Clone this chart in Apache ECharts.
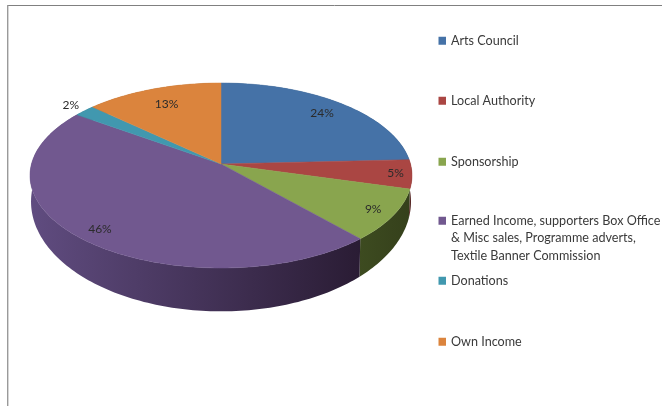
<!DOCTYPE html>
<html><head><meta charset="utf-8">
<style>html,body{margin:0;padding:0;background:#fff}#c{width:662px;height:406px}</style>
<script src="https://cdn.jsdelivr.net/npm/echarts@6/dist/echarts.min.js"></script>
</head><body><div id="c"></div>
<script>
const categories = ['Arts Council','Local Authority','Sponsorship','Earned Income, supporters Box Office\n& Misc sales, Programme adverts,\nTextile Banner Commission','Donations','Own Income'];
const values = [24,5,9,46,2,13];
const colors = ['#4572A7','#AA4643','#89A54E','#71588F','#4198AF','#DB843D'];
const sideColors = [['#2f4c70','#2f4c70'],['#5a2422','#4a1d1b'],['#3d4b20','#35401b'],['#604c80','#2a1c34'],['#2b6575','#2b6575'],['#935828','#935828']];
const labelRadius = [0.83,0.915,0.89,0.88,1.11,0.78];

const total = values.reduce((a,b)=>a+b,0);
const CX = 221;
const top_ = {y:164, a:91.07, b:189.5};
const bot = {y:188, a:108, b:188.5};
const K = 0.1243;
function proj(p, th, f){
  const u = Math.sin(th)*f, v = -Math.cos(th)*f, d = 1-K*v;
  return [CX + p.b*u/d, p.y + p.a*v/d];
}
function cum(i){ let s=0; for(let j=0;j<i;j++) s+=values[j]; return s/total*2*Math.PI; }

function renderSlice(i){
  const a0 = cum(i), a1 = cum(i+1), n = Math.max(4,Math.ceil((a1-a0)/0.02));
  const rimT=[], rimB=[];
  for(let j=0;j<=n;j++){
    const t=a0+(a1-a0)*j/n;
    rimT.push(proj(top_,t,1)); rimB.push(proj(bot,t,1));
  }
  const mid=(a0+a1)/2, lp=proj(top_,mid,labelRadius[i]);
  return {type:'group',children:[
    {type:'polygon',z2:1,shape:{points:rimT.concat(rimB.slice().reverse())},
      style:{fill:new echarts.graphic.LinearGradient(0,0,1,0,[{offset:0,color:sideColors[i][0]},{offset:1,color:sideColors[i][1]}]),stroke:null}},
    {type:'polygon',z2:10,shape:{points:[[CX,top_.y]].concat(rimT)},
      style:{fill:colors[i],stroke:colors[i],lineWidth:0.5}},
    {type:'text',z2:20,x:lp[0],y:lp[1],
      style:{text:values[i]+'%',fill:'#2b2b2b',font:'12px Lato',align:'center',verticalAlign:'middle'}}
  ]};
}

const rowTop = [32,92,153,177,272,333];
const chart = echarts.init(document.getElementById('c'),null,{renderer:'canvas'});
chart.setOption({
  animation:false,
  backgroundColor:'#fff',
  legend: categories.map((c,i)=>({
    data:[c], orient:'vertical', left:438.5, top: rowTop[i],
    padding:0, itemWidth:7.5, itemHeight:8, itemGap:0, icon:'rect', selectedMode:false,
    formatter:n=>n.includes('\n') ? '\n\n'+n : n,
    textStyle:{fontFamily:'Lato',fontSize:12.6,color:'#3a3a3a',lineHeight:17.5}
  })),
  graphic:[
    {type:'line',shape:{x1:7,y1:5.5,x2:662,y2:5.5},style:{stroke:'#808080',lineWidth:1},silent:true},
    {type:'line',shape:{x1:7.7,y1:5,x2:7.7,y2:406},style:{stroke:'#9a9a9a',lineWidth:1.4},silent:true}
  ],
  series: categories.map((c,i)=>({
    type:'custom',name:c,coordinateSystem:'none',
    itemStyle:{color:colors[i]},
    data:[[values[i]]],
    renderItem:()=>renderSlice(i)
  }))
});
</script></body></html>
